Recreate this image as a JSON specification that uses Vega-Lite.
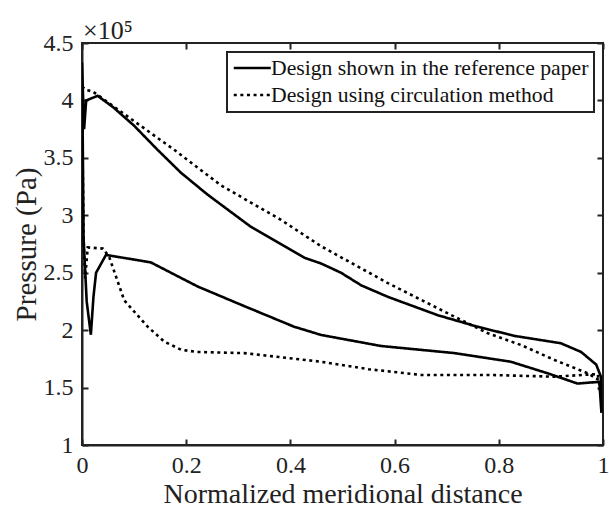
{
  "$schema": "https://vega.github.io/schema/vega-lite/v6.json",
  "width": 521,
  "height": 402,
  "autosize": {"type": "none"},
  "padding": {"left": 82, "top": 43, "right": 6, "bottom": 67},
  "background": "white",
  "title": {"text": "×10⁵", "anchor": "start", "frame": "group", "font": "Times New Roman, Liberation Serif, DejaVu Serif, serif", "fontSize": 26, "fontWeight": "normal", "color": "#222222", "offset": -13, "dx": 1},
  "config": {
    "view": {"stroke": "#222222", "strokeWidth": 2},
    "font": "Times New Roman, Liberation Serif, DejaVu Serif, serif",
    "axis": {"grid": false, "labelFlush": false, "domainColor": "#222222", "domainWidth": 2, "tickColor": "#222222", "tickWidth": 2, "tickSize": -6, "labelFont": "Times New Roman, Liberation Serif, DejaVu Serif, serif", "labelFontSize": 24, "labelColor": "#222222", "titleFont": "Times New Roman, Liberation Serif, DejaVu Serif, serif", "titleFontSize": 29, "titleFontWeight": "normal", "titleColor": "#222222"}
  },
  "data": {"values": [
    {"series": "Design shown in the reference paper", "i": 0, "x": 0.000, "p": 433000},
    {"series": "Design shown in the reference paper", "i": 1, "x": 0.004, "p": 375000},
    {"series": "Design shown in the reference paper", "i": 2, "x": 0.008, "p": 400000},
    {"series": "Design shown in the reference paper", "i": 3, "x": 0.030, "p": 404000},
    {"series": "Design shown in the reference paper", "i": 4, "x": 0.060, "p": 394000},
    {"series": "Design shown in the reference paper", "i": 5, "x": 0.100, "p": 378000},
    {"series": "Design shown in the reference paper", "i": 6, "x": 0.145, "p": 357000},
    {"series": "Design shown in the reference paper", "i": 7, "x": 0.190, "p": 337000},
    {"series": "Design shown in the reference paper", "i": 8, "x": 0.241, "p": 318000},
    {"series": "Design shown in the reference paper", "i": 9, "x": 0.324, "p": 290000},
    {"series": "Design shown in the reference paper", "i": 10, "x": 0.427, "p": 263000},
    {"series": "Design shown in the reference paper", "i": 11, "x": 0.459, "p": 258000},
    {"series": "Design shown in the reference paper", "i": 12, "x": 0.497, "p": 250000},
    {"series": "Design shown in the reference paper", "i": 13, "x": 0.536, "p": 239000},
    {"series": "Design shown in the reference paper", "i": 14, "x": 0.587, "p": 229000},
    {"series": "Design shown in the reference paper", "i": 15, "x": 0.683, "p": 213000},
    {"series": "Design shown in the reference paper", "i": 16, "x": 0.759, "p": 203000},
    {"series": "Design shown in the reference paper", "i": 17, "x": 0.830, "p": 195000},
    {"series": "Design shown in the reference paper", "i": 18, "x": 0.919, "p": 188600},
    {"series": "Design shown in the reference paper", "i": 19, "x": 0.958, "p": 181000},
    {"series": "Design shown in the reference paper", "i": 20, "x": 0.987, "p": 170000},
    {"series": "Design shown in the reference paper", "i": 21, "x": 0.996, "p": 159500},
    {"series": "Design shown in the reference paper", "i": 22, "x": 0.997, "p": 128000},
    {"series": "Design shown in the reference paper", "i": 23, "x": 0.993, "p": 155000},
    {"series": "Design shown in the reference paper", "i": 24, "x": 0.951, "p": 153500},
    {"series": "Design shown in the reference paper", "i": 25, "x": 0.894, "p": 162400},
    {"series": "Design shown in the reference paper", "i": 26, "x": 0.823, "p": 172500},
    {"series": "Design shown in the reference paper", "i": 27, "x": 0.715, "p": 180000},
    {"series": "Design shown in the reference paper", "i": 28, "x": 0.574, "p": 186200},
    {"series": "Design shown in the reference paper", "i": 29, "x": 0.459, "p": 195800},
    {"series": "Design shown in the reference paper", "i": 30, "x": 0.407, "p": 203000},
    {"series": "Design shown in the reference paper", "i": 31, "x": 0.311, "p": 221000},
    {"series": "Design shown in the reference paper", "i": 32, "x": 0.222, "p": 238000},
    {"series": "Design shown in the reference paper", "i": 33, "x": 0.132, "p": 259000},
    {"series": "Design shown in the reference paper", "i": 34, "x": 0.046, "p": 265500},
    {"series": "Design shown in the reference paper", "i": 35, "x": 0.027, "p": 250000},
    {"series": "Design shown in the reference paper", "i": 36, "x": 0.022, "p": 229000},
    {"series": "Design shown in the reference paper", "i": 37, "x": 0.017, "p": 196000},
    {"series": "Design shown in the reference paper", "i": 38, "x": 0.009, "p": 225000},
    {"series": "Design shown in the reference paper", "i": 39, "x": 0.003, "p": 280000},
    {"series": "Design shown in the reference paper", "i": 40, "x": 0.001, "p": 390000},
    {"series": "Design shown in the reference paper", "i": 41, "x": 0.000, "p": 433000},
    {"series": "Design using circulation method", "i": 0, "x": 0.000, "p": 412000},
    {"series": "Design using circulation method", "i": 1, "x": 0.008, "p": 409000},
    {"series": "Design using circulation method", "i": 2, "x": 0.020, "p": 408000},
    {"series": "Design using circulation method", "i": 3, "x": 0.100, "p": 382000},
    {"series": "Design using circulation method", "i": 4, "x": 0.177, "p": 357000},
    {"series": "Design using circulation method", "i": 5, "x": 0.267, "p": 326000},
    {"series": "Design using circulation method", "i": 6, "x": 0.382, "p": 296000},
    {"series": "Design using circulation method", "i": 7, "x": 0.459, "p": 273000},
    {"series": "Design using circulation method", "i": 8, "x": 0.587, "p": 241000},
    {"series": "Design using circulation method", "i": 9, "x": 0.715, "p": 211700},
    {"series": "Design using circulation method", "i": 10, "x": 0.779, "p": 197300},
    {"series": "Design using circulation method", "i": 11, "x": 0.843, "p": 187000},
    {"series": "Design using circulation method", "i": 12, "x": 0.907, "p": 174000},
    {"series": "Design using circulation method", "i": 13, "x": 0.971, "p": 162400},
    {"series": "Design using circulation method", "i": 14, "x": 0.994, "p": 156000},
    {"series": "Design using circulation method", "i": 15, "x": 0.996, "p": 142000},
    {"series": "Design using circulation method", "i": 16, "x": 0.990, "p": 161800},
    {"series": "Design using circulation method", "i": 17, "x": 0.907, "p": 159500},
    {"series": "Design using circulation method", "i": 18, "x": 0.779, "p": 161000},
    {"series": "Design using circulation method", "i": 19, "x": 0.651, "p": 161000},
    {"series": "Design using circulation method", "i": 20, "x": 0.550, "p": 166000},
    {"series": "Design using circulation method", "i": 21, "x": 0.459, "p": 172500},
    {"series": "Design using circulation method", "i": 22, "x": 0.311, "p": 180000},
    {"series": "Design using circulation method", "i": 23, "x": 0.220, "p": 181000},
    {"series": "Design using circulation method", "i": 24, "x": 0.190, "p": 183000},
    {"series": "Design using circulation method", "i": 25, "x": 0.158, "p": 190000},
    {"series": "Design using circulation method", "i": 26, "x": 0.126, "p": 203000},
    {"series": "Design using circulation method", "i": 27, "x": 0.081, "p": 226000},
    {"series": "Design using circulation method", "i": 28, "x": 0.052, "p": 264000},
    {"series": "Design using circulation method", "i": 29, "x": 0.040, "p": 271000},
    {"series": "Design using circulation method", "i": 30, "x": 0.011, "p": 272000},
    {"series": "Design using circulation method", "i": 31, "x": 0.006, "p": 245000},
    {"series": "Design using circulation method", "i": 32, "x": 0.003, "p": 280000},
    {"series": "Design using circulation method", "i": 33, "x": 0.001, "p": 360000},
    {"series": "Design using circulation method", "i": 34, "x": 0.000, "p": 412000}
  ]},
  "layer": [
    {
      "mark": {"type": "line", "color": "black", "strokeWidth": 2.6, "strokeCap": "butt", "strokeJoin": "miter", "clip": true},
      "encoding": {
        "x": {"field": "x", "type": "quantitative", "scale": {"domain": [0, 1], "nice": false, "zero": false},
              "axis": {"orient": "bottom", "values": [0, 0.2, 0.4, 0.6, 0.8, 1], "format": "~g", "labelPadding": 14, "title": "Normalized meridional distance", "titleFontSize": 28, "titlePadding": 3}},
        "y": {"field": "p", "type": "quantitative", "scale": {"domain": [100000, 450000], "nice": false, "zero": false},
              "axis": {"orient": "left", "values": [100000, 150000, 200000, 250000, 300000, 350000, 400000, 450000], "labelExpr": "format(datum.value/100000, '~g')", "labelPadding": 15, "title": "Pressure (Pa)", "titlePadding": 2}},
        "order": {"field": "i", "type": "quantitative"},
        "strokeDash": {"field": "series", "type": "nominal",
          "scale": {"domain": ["Design shown in the reference paper", "Design using circulation method"], "range": [[1, 0], [3, 3.6]]},
          "legend": {"title": null, "orient": "none", "legendX": 145, "legendY": 9, "strokeColor": "#222222", "fillColor": "white", "padding": 5, "symbolType": "M-1,0H3", "symbolSize": 342, "symbolStrokeWidth": 2.6, "symbolStrokeColor": "black", "symbolFillColor": "transparent", "labelFontSize": 21.7, "labelFont": "Times New Roman, Liberation Serif, DejaVu Serif, serif", "labelColor": "#111111", "rowPadding": 4, "labelOffset": 17, "labelLimit": 400,
            "encode": {"legend": {"update": {"strokeWidth": {"value": 2}}}}}}
      }
    },
    {
      "mark": {"type": "line", "opacity": 0},
      "encoding": {
        "x": {"field": "x", "type": "quantitative", "axis": {"orient": "top", "values": [0, 0.2, 0.4, 0.6, 0.8, 1], "labels": false, "title": null, "domain": false}},
        "y": {"field": "p", "type": "quantitative", "axis": {"orient": "right", "values": [100000, 150000, 200000, 250000, 300000, 350000, 400000, 450000], "labels": false, "title": null, "domain": false}},
        "order": {"field": "i", "type": "quantitative"},
        "detail": {"field": "series", "type": "nominal"}
      }
    }
  ],
  "resolve": {"axis": {"x": "independent", "y": "independent"}}
}
